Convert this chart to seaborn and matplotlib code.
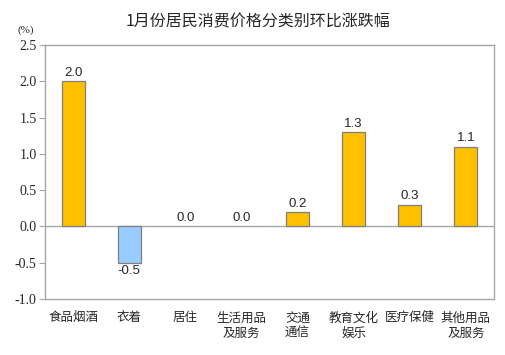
import matplotlib
matplotlib.use("Agg")
import matplotlib.pyplot as plt
import seaborn as sns
import pandas as pd

categories = ["食品烟酒", "衣着", "居住", "生活用品\n及服务", "交通\n通信", "教育文化\n娱乐", "医疗保健", "其他用品\n及服务"]
values = [2.0, -0.5, 0.0, 0.0, 0.2, 1.3, 0.3, 1.1]
title = "1月份居民消费价格分类别环比涨跌幅"
yticks = [-1.0, -0.5, 0.0, 0.5, 1.0, 1.5, 2.0, 2.5]

sns.set_theme(style="white")
plt.rcParams['font.family'] = ['Noto Sans CJK SC', 'DejaVu Sans']

df = pd.DataFrame({"cat": categories, "val": values})
palette = ["#99CCFF" if v < 0 else "#FFC000" for v in values]

fig = plt.figure(figsize=(5.05, 3.55), dpi=100)
ax = fig.add_axes([0.0891, 0.158, 0.889, 0.715])
sns.barplot(data=df, x="cat", y="val", hue="cat", palette=palette, legend=False,
            width=0.41, edgecolor="#7F7F7F", linewidth=0.9, ax=ax, saturation=1)
for p in ax.patches:
    if abs(p.get_height()) < 1e-9:
        p.set_linewidth(0)

ax.set_ylim(-1.0, 2.5)
ax.set_xlim(-0.5, len(categories) - 0.5)
ax.set_yticks(yticks)
ax.set_yticklabels([f"{t:.1f}" for t in yticks], fontfamily="Liberation Serif", fontsize=10)
ax.set_xticks(range(len(categories)))
ax.set_xticklabels(categories, fontsize=9, linespacing=1.25)
ax.set_xlabel("")
ax.set_ylabel("")
ax.axhline(0, color="#A6A6A6", linewidth=1.0, zorder=0)

for s in ax.spines.values():
    s.set_color("#A6A6A6")
    s.set_linewidth(1.0)
ax.tick_params(axis="y", which="both", left=True, length=4, width=0.8, color="#A6A6A6", pad=2)
ax.tick_params(axis="x", bottom=False, pad=3)

for i, v in enumerate(values):
    if v < 0:
        ax.text(i, v - 0.03, f"{v:.1f}", ha="center", va="top", fontsize=9.5, fontfamily="Liberation Sans")
    else:
        ax.text(i, v + 0.03, f"{v:.1f}", ha="center", va="bottom", fontsize=9.5, fontfamily="Liberation Sans")

fig.text(0.51, 0.938, title, ha="center", va="center", fontsize=11.5)
fig.text(0.05, 0.915, "(%)", ha="center", va="center", fontsize=8, fontfamily="Liberation Serif")

fig.savefig("out.png", dpi=100)
